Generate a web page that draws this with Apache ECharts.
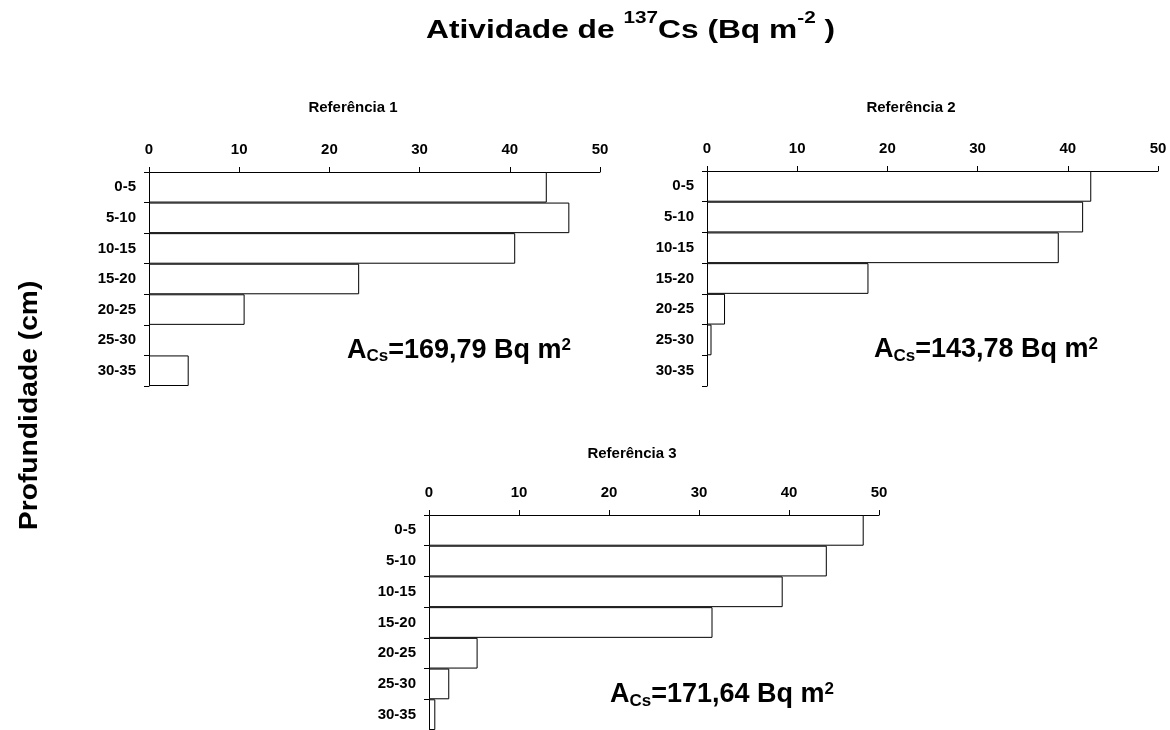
<!DOCTYPE html>
<html>
<head>
<meta charset="utf-8">
<script src="https://cdn.jsdelivr.net/npm/echarts@6/dist/echarts.min.js"></script>
<style>
  html, body { margin: 0; padding: 0; background: #fff; }
  #chart { width: 1170px; height: 730px; }
</style>
</head>
<body>
<div id="chart"></div>
<script>
// Depth intervals (cm), shared by the three profiles
const depths = ['0-5', '5-10', '10-15', '15-20', '20-25', '25-30', '30-35'];

// 137Cs activity per depth interval (Bq m-2)
const ref1 = [44.1, 46.6, 40.6, 23.3, 10.6, 0, 4.4];
const ref2 = [42.6, 41.7, 39.0, 17.9, 2.0, 0.5, 0];
const ref3 = [48.3, 44.2, 39.3, 31.5, 5.4, 2.25, 0.7];

// Activity axis ticks
const xMin = 0;
const xMax = 50;
const xStep = 10;

// Panel titles and inventory totals
const panelTitles = ['Referência 1', 'Referência 2', 'Referência 3'];
const totals = ['169,79', '143,78', '171,64'];

const FONT = '"Liberation Sans", Arial, Helvetica, sans-serif';

const grids = [
  { left: 149, top: 172, width: 451, height: 214 },
  { left: 707, top: 171, width: 451, height: 215 },
  { left: 429, top: 515, width: 450, height: 215 }
];

const series = [ref1, ref2, ref3];

const chart = echarts.init(document.getElementById('chart'), null, { renderer: 'canvas' });

const xAxes = grids.map((g, i) => ({
  type: 'value',
  gridIndex: i,
  position: 'top',
  min: xMin,
  max: xMax,
  interval: xStep,
  axisLine: { show: true, lineStyle: { color: '#000', width: 1 } },
  axisTick: { show: true, inside: false, length: 5, lineStyle: { color: '#000', width: 1 } },
  splitLine: { show: false },
  axisLabel: {
    show: true, margin: 15, color: '#000',
    fontFamily: FONT, fontWeight: 'bold', fontSize: 15
  }
}));

const yAxes = grids.map((g, i) => ({
  type: 'category',
  gridIndex: i,
  data: depths,
  inverse: true,
  boundaryGap: true,
  axisLine: { show: true, lineStyle: { color: '#000', width: 1 } },
  axisTick: { show: true, inside: false, length: 5, alignWithLabel: false, lineStyle: { color: '#000', width: 1 } },
  splitLine: { show: false },
  axisLabel: {
    show: true, margin: 13, color: '#000', interval: 0,
    fontFamily: FONT, fontWeight: 'bold', fontSize: 15
  }
}));

// Empty intervals get no outline, so only the axis line shows there
const barSeries = series.map((vals, i) => ({
  type: 'bar',
  xAxisIndex: i,
  yAxisIndex: i,
  data: vals.map(v => (v === 0 ? { value: v, itemStyle: { borderWidth: 0 } } : v)),
  barCategoryGap: '0%',
  barGap: '0%',
  itemStyle: { color: '#fff', borderColor: '#000', borderWidth: 1 },
  emphasis: { disabled: true },
  silent: true
}));

// Text placed around the panels
const panelTitlePos = [[353, 108], [911, 108], [632, 454]];
const totalPos = [[347, 350.3], [874, 349.8], [610, 694.5]];

const richTotal = {
  a: { fontFamily: FONT, fontWeight: 'bold', fontSize: 27, lineHeight: 30, verticalAlign: 'middle', fill: '#000' },
  s: { fontFamily: FONT, fontWeight: 'bold', fontSize: 17, lineHeight: 30, verticalAlign: 'middle', padding: [12.7, 0, 0, 0], fill: '#000' },
  p: { fontFamily: FONT, fontWeight: 'bold', fontSize: 17, lineHeight: 30, verticalAlign: 'middle', padding: [0, 0, 10.7, 0], fill: '#000' }
};

const graphics = [];

// Main title with superscripts
graphics.push({
  type: 'text',
  x: 426,
  y: 30.9,
  scaleX: 1.22,
  style: {
    text: '{a|Atividade de }{p|137}{a|Cs (Bq m}{p|-2}{a| )}',
    align: 'left',
    verticalAlign: 'middle',
    rich: {
      a: { fontFamily: FONT, fontWeight: 'bold', fontSize: 26, lineHeight: 30, verticalAlign: 'middle', fill: '#000' },
      p: { fontFamily: FONT, fontWeight: 'bold', fontSize: 17, lineHeight: 30, verticalAlign: 'middle', padding: [0, 0, 25, 0], fill: '#000' }
    }
  }
});

// Shared depth axis name
graphics.push({
  type: 'text',
  x: 30,
  y: 405.4,
  rotation: Math.PI / 2,
  scaleX: 1.13,
  style: {
    text: 'Profundidade (cm)',
    align: 'center',
    verticalAlign: 'middle',
    fontFamily: FONT, fontWeight: 'bold', fontSize: 25, fill: '#000'
  }
});

panelTitles.forEach((t, i) => {
  graphics.push({
    type: 'text',
    x: panelTitlePos[i][0],
    y: panelTitlePos[i][1],
    style: {
      text: t, align: 'center', verticalAlign: 'middle',
      fontFamily: FONT, fontWeight: 'bold', fontSize: 15, fill: '#000'
    }
  });
  graphics.push({
    type: 'text',
    x: totalPos[i][0],
    y: totalPos[i][1],
    style: {
      text: '{a|A}{s|Cs}{a|=' + totals[i] + ' Bq m}{p|2}',
      align: 'left',
      verticalAlign: 'middle',
      rich: richTotal
    }
  });
});

chart.setOption({
  animation: false,
  backgroundColor: '#fff',
  grid: grids.map(g => Object.assign({ containLabel: false, outerBoundsMode: 'none' }, g)),
  xAxis: xAxes,
  yAxis: yAxes,
  series: barSeries,
  graphic: graphics
});
</script>
</body>
</html>
